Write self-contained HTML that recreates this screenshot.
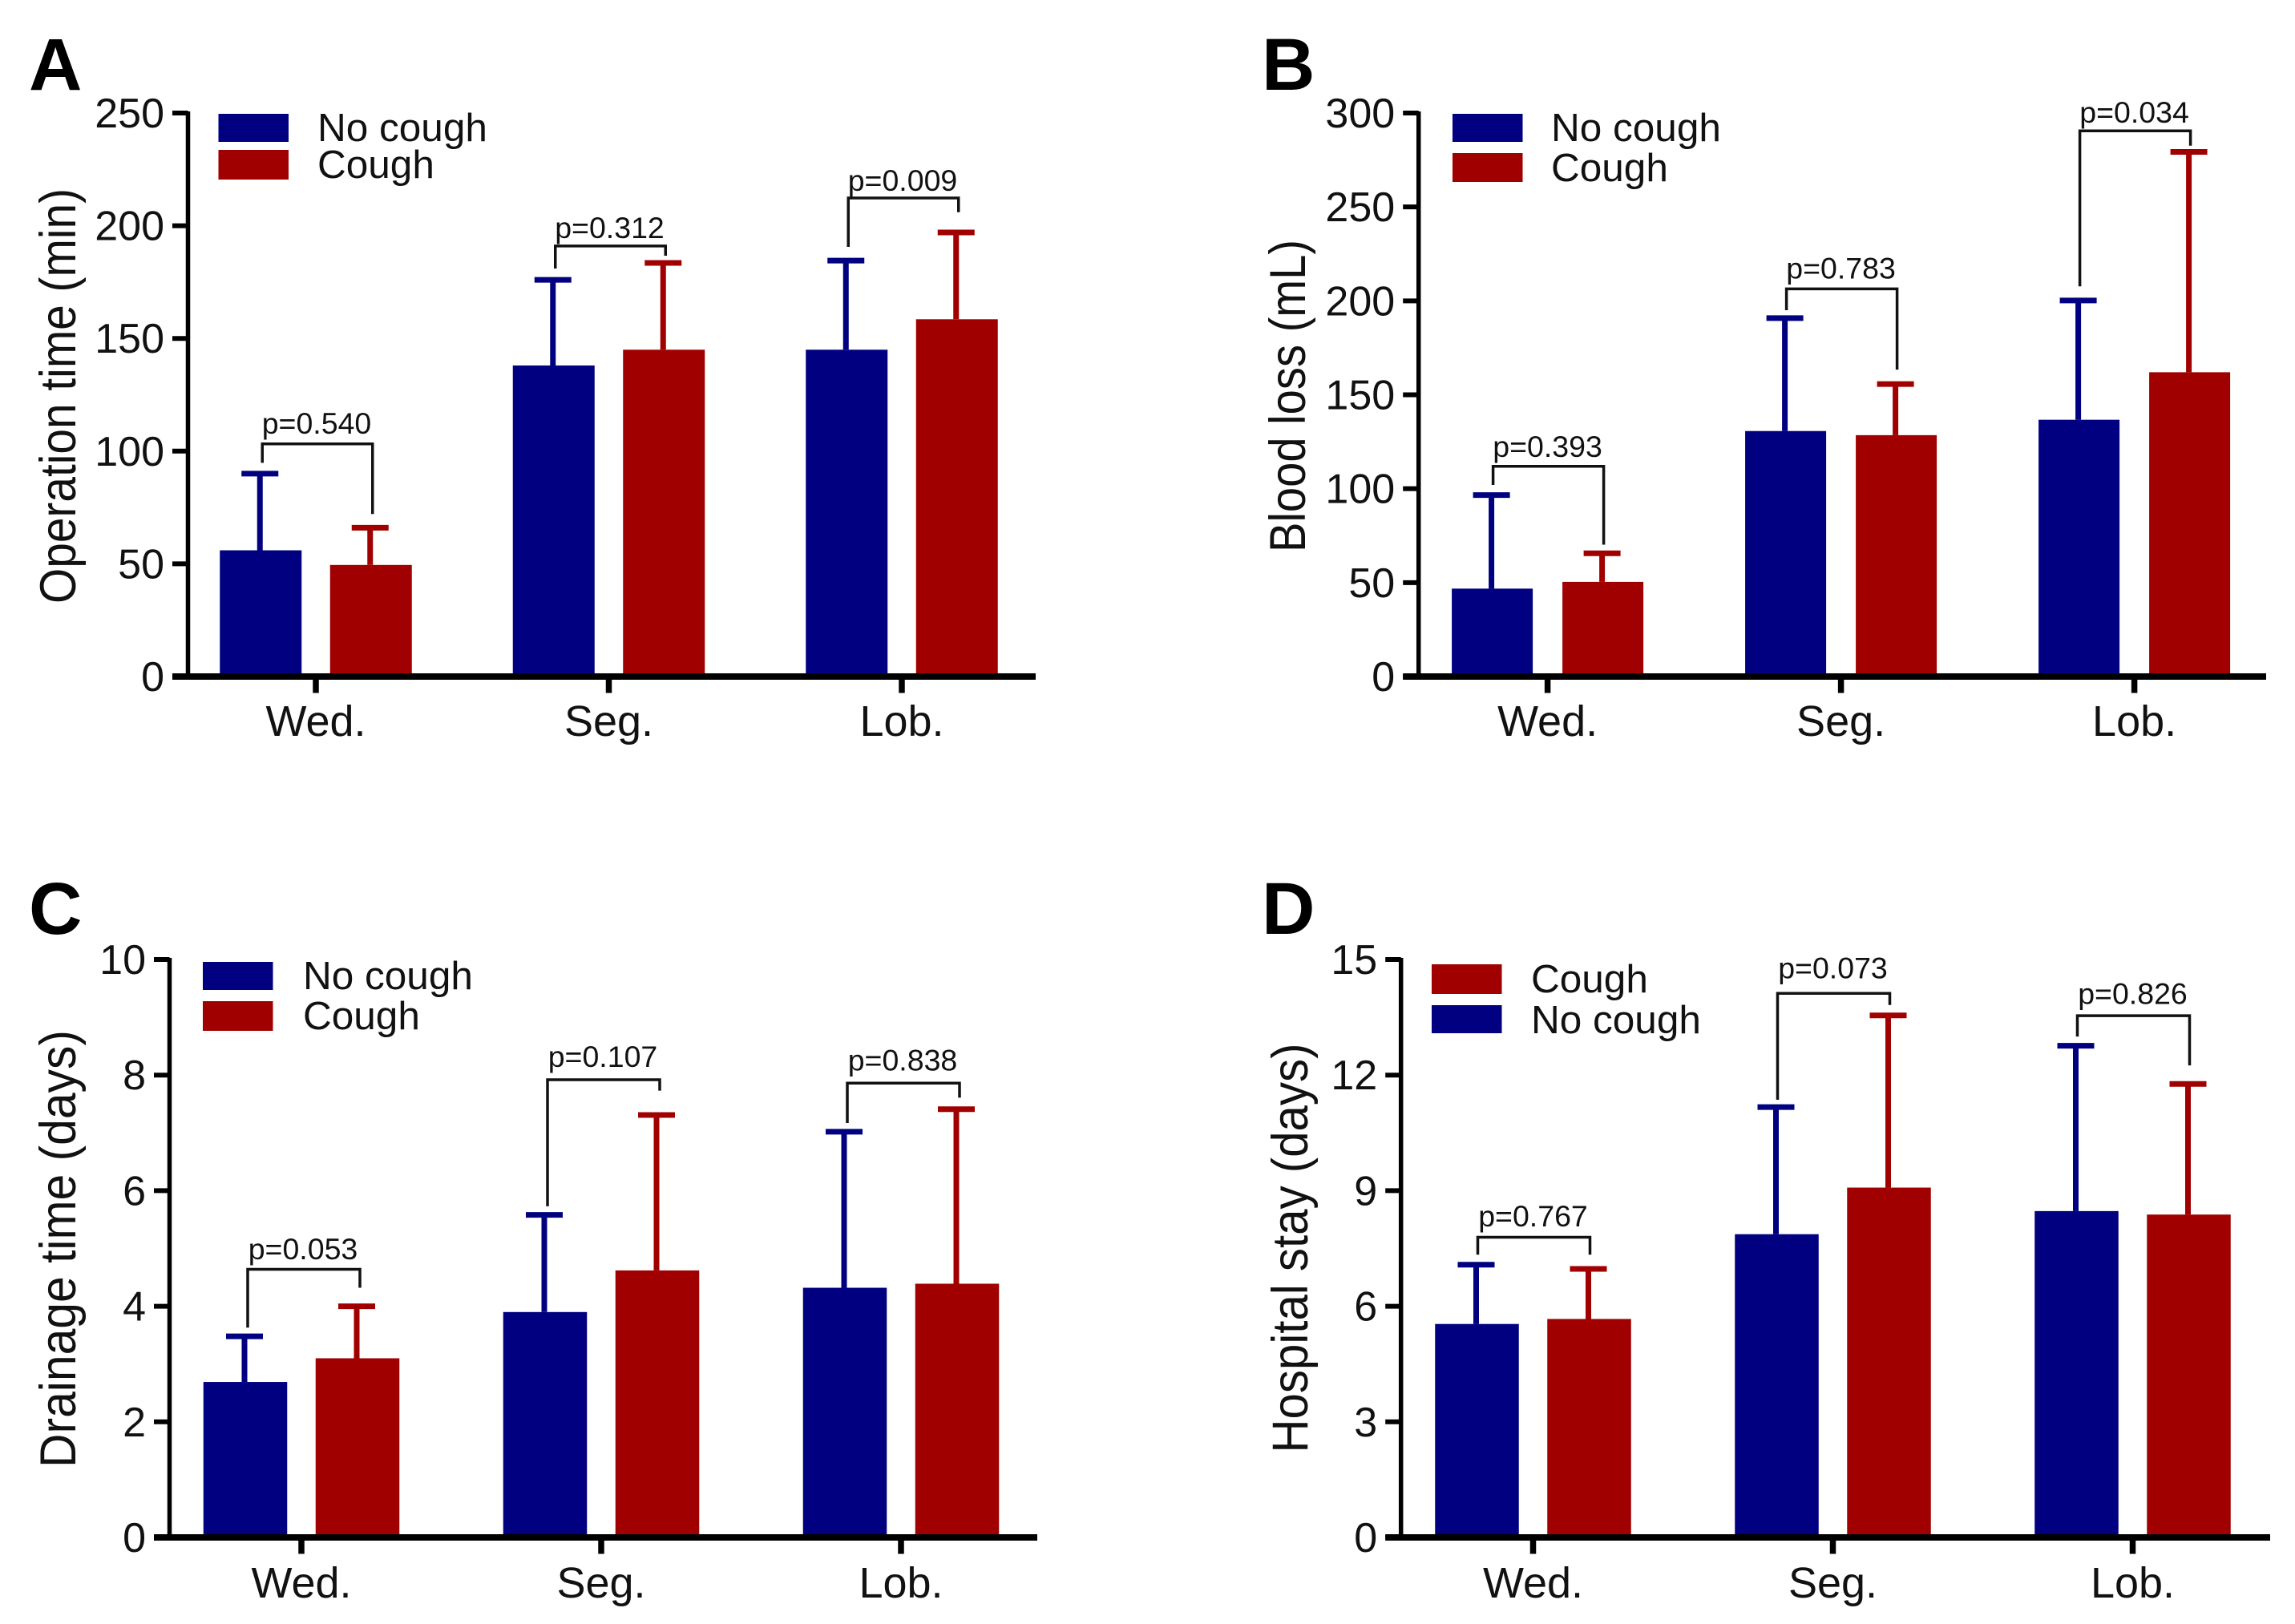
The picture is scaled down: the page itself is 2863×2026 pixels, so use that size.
<!DOCTYPE html>
<html lang="en">
<head>
<meta charset="utf-8">
<title>Cough outcomes by resection type</title>
<style>
html,body{margin:0;padding:0;background:#fff;}
svg{display:block;font-family:"Liberation Sans",Arial,sans-serif;fill:#111;}
</style>
</head>
<body>
<svg id="figure" xmlns="http://www.w3.org/2000/svg" width="2863" height="2026" viewBox="0 0 2863 2026"></svg>
<script>
const categories = ['Wed.', 'Seg.', 'Lob.'];

const aTickValues = [0, 50, 100, 150, 200, 250];
const aNoCough = [56, 138, 145];
const aCough = [49.5, 145, 158.5];
const aNoCoughErr = [90, 176, 184.5];
const aCoughErr = [66, 183.5, 197];
const aBracketTop = [103.2, 191, 212.3];
const aBracketLeftEnd = [94.8, 181, 190.6];
const aBracketRightEnd = [72.1, 186.7, 206];
const aPLabelLevel = [107.8, 194.6, 215.5];
const aPValues = ['p=0.540', 'p=0.312', 'p=0.009'];

const bTickValues = [0, 50, 100, 150, 200, 250, 300];
const bNoCough = [46.8, 130.7, 136.7];
const bCough = [50.4, 128.5, 162];
const bNoCoughErr = [96.6, 190.8, 200.2];
const bCoughErr = [65.6, 155.7, 279.3];
const bBracketTop = [111.9, 206.4, 290.5];
const bBracketLeftEnd = [102, 195, 207.7];
const bBracketRightEnd = [70.2, 163.4, 282.6];
const bPLabelLevel = [117, 211.8, 294.9];
const bPValues = ['p=0.393', 'p=0.783', 'p=0.034'];

const cTickValues = [0, 2, 4, 6, 8, 10];
const cNoCough = [2.69, 3.9, 4.32];
const cCough = [3.1, 4.62, 4.39];
const cNoCoughErr = [3.48, 5.58, 7.02];
const cCoughErr = [4.0, 7.31, 7.41];
const cBracketTop = [4.64, 7.92, 7.86];
const cBracketLeftEnd = [3.63, 5.73, 7.17];
const cBracketRightEnd = [4.32, 7.73, 7.61];
const cPLabelLevel = [4.81, 8.14, 8.08];
const cPValues = ['p=0.053', 'p=0.107', 'p=0.838'];

const dTickValues = [0, 3, 6, 9, 12, 15];
const dNoCough = [5.54, 7.87, 8.47];
const dCough = [5.67, 9.08, 8.38];
const dNoCoughErr = [7.08, 11.17, 12.76];
const dCoughErr = [6.97, 13.55, 11.77];
const dBracketTop = [7.79, 14.12, 13.54];
const dBracketLeftEnd = [7.34, 11.36, 13.0];
const dBracketRightEnd = [7.34, 13.82, 12.25];
const dPLabelLevel = [8.07, 14.51, 13.85];
const dPValues = ['p=0.767', 'p=0.073', 'p=0.826'];

const NAVY = '#000080';
const RED = '#a00000';
const NS = 'http://www.w3.org/2000/svg';
const figure = document.getElementById('figure');

function make(tag, parent, attrs) {
  const el = document.createElementNS(NS, tag);
  for (const k in attrs) el.setAttribute(k, attrs[k]);
  parent.appendChild(el);
  return el;
}

function drawPanel(p) {
  const panel = make('g', figure, {});
  
  

  const yScale = function (v) { return p.y0 - (v / p.max) * (p.y0 - p.yTop); };
  const xScale = function (i) { return p.x0 + i * p.step; };

  const letter = make('text', panel, { x: p.letterX, y: p.letterY, 'font-size': 92, 'font-weight': 'bold', fill: '#000' });
  letter.textContent = p.letter;
  
  

  const title = make('text', panel, {
    transform: 'translate(' + p.titleX + ',' + p.titleY + ') rotate(-90)',
    'text-anchor': 'middle', 'font-size': 63, textLength: p.titleLen, lengthAdjust: 'spacingAndGlyphs'
  });
  title.textContent = p.title;
  
  

  // bars and error bars
  categories.forEach(function (cat, i) {
    [
      { key: 'no-cough', vals: p.noCough, errs: p.noCoughErr, color: NAVY, sign: -1 },
      { key: 'cough', vals: p.cough, errs: p.coughErr, color: RED, sign: 1 }
    ].forEach(function (s) {
      const cx = xScale(i) + s.sign * p.barOffset;
      const top = yScale(s.vals[i]);
      const errTop = yScale(s.errs[i]);

      const bar = make('rect', panel, { x: cx - p.barW / 2, y: top, width: p.barW, height: p.y0 - top, fill: s.color });
      
      

      const stem = make('line', panel, { x1: cx - 1, x2: cx - 1, y1: top, y2: errTop, stroke: s.color, 'stroke-width': 7 });
      
      

      const cap = make('line', panel, { x1: cx - 24, x2: cx + 22, y1: errTop, y2: errTop, stroke: s.color, 'stroke-width': 7 });
      
      
    });

    // significance bracket
    const bx1 = xScale(i) - p.barOffset + p.bracketDx;
    const bx2 = xScale(i) + p.barOffset + p.bracketDx;
    const by = yScale(p.bracketTop[i]);
    const bracket = make('polyline', panel, {
      points: bx1 + ',' + yScale(p.bracketLeftEnd[i]) + ' ' + bx1 + ',' + by + ' ' + bx2 + ',' + by + ' ' + bx2 + ',' + yScale(p.bracketRightEnd[i]),
      fill: 'none', stroke: '#111', 'stroke-width': 3.5
    });
    
    

    const pLabel = make('text', panel, { x: (bx1 + bx2) / 2 - 1, y: yScale(p.pLabelLevel[i]), 'text-anchor': 'middle', 'font-size': 37.5 });
    pLabel.textContent = p.pValues[i];
    
    

    // category tick + label
    const xTick = make('line', panel, { x1: xScale(i), x2: xScale(i), y1: p.y0, y2: p.y0 + 20.5, stroke: '#000', 'stroke-width': 7.5 });
    
    

    const xLabel = make('text', panel, { x: xScale(i), y: p.xLabelY, 'text-anchor': 'middle', 'font-size': 54 });
    xLabel.textContent = cat;
    
    
  });

  // y axis
  const yAxis = make('line', panel, { x1: p.axisX, x2: p.axisX, y1: p.yTop - 2, y2: p.y0, stroke: '#000', 'stroke-width': 5.5 });
  
  

  p.ticks.forEach(function (t) {
    const yTick = make('line', panel, { x1: p.axisX - 19.5, x2: p.axisX, y1: yScale(t), y2: yScale(t), stroke: '#000', 'stroke-width': 6 });
    
    

    const yLabel = make('text', panel, { x: p.axisX - 29.5, y: yScale(t) + 18, 'text-anchor': 'end', 'font-size': 52 });
    yLabel.textContent = t;
    
    
  });

  // x axis
  const xAxis = make('line', panel, { x1: p.axisX - 19.5, x2: p.xEnd, y1: p.y0, y2: p.y0, stroke: '#000', 'stroke-width': 8 });
  
  

  // legend
  p.legend.forEach(function (item) {
    const entry = make('g', panel, {});
    
    

    const swatch = make('rect', entry, { x: p.legendX, y: item.y, width: 87.5, height: item.h, fill: item.color });
    
    

    const label = make('text', entry, { x: p.legendTextX, y: item.base, 'font-size': 49.5 });
    label.textContent = item.label;
    
    
  });
}

drawPanel({
  letter: 'A', letterX: 36, letterY: 112, title: 'Operation time (min)', titleX: 94, titleY: 494, titleLen: 518,
  axisX: 234.5, xEnd: 1292, y0: 844, yTop: 141, max: 250, x0: 394, step: 365.5, barOffset: 68.75, barW: 102, bracketDx: 2,
  xLabelY: 918, ticks: aTickValues, noCough: aNoCough, cough: aCough, noCoughErr: aNoCoughErr, coughErr: aCoughErr,
  bracketTop: aBracketTop, bracketLeftEnd: aBracketLeftEnd, bracketRightEnd: aBracketRightEnd, pLabelLevel: aPLabelLevel, pValues: aPValues,
  legendX: 272.5, legendTextX: 396,
  legend: [
    { label: 'No cough', color: NAVY, y: 142, h: 35, base: 176 },
    { label: 'Cough', color: RED, y: 187, h: 37, base: 222 }
  ]
});

drawPanel({
  letter: 'B', letterX: 1574, letterY: 112, title: 'Blood loss (mL)', titleX: 1628, titleY: 494, titleLen: 390,
  axisX: 1769.7, xEnd: 2827, y0: 844, yTop: 141, max: 300, x0: 1930.6, step: 366, barOffset: 69, barW: 101, bracketDx: 1,
  xLabelY: 918, ticks: bTickValues, noCough: bNoCough, cough: bCough, noCoughErr: bNoCoughErr, coughErr: bCoughErr,
  bracketTop: bBracketTop, bracketLeftEnd: bBracketLeftEnd, bracketRightEnd: bBracketRightEnd, pLabelLevel: bPLabelLevel, pValues: bPValues,
  legendX: 1812, legendTextX: 1935,
  legend: [
    { label: 'No cough', color: NAVY, y: 142, h: 35, base: 176 },
    { label: 'Cough', color: RED, y: 191, h: 36, base: 226 }
  ]
});

drawPanel({
  letter: 'C', letterX: 36, letterY: 1165, title: 'Drainage time (days)', titleX: 94, titleY: 1558, titleLen: 546,
  axisX: 211.5, xEnd: 1294, y0: 1918, yTop: 1197, max: 10, x0: 376, step: 374, barOffset: 70, barW: 104.5, bracketDx: 3,
  xLabelY: 1993, ticks: cTickValues, noCough: cNoCough, cough: cCough, noCoughErr: cNoCoughErr, coughErr: cCoughErr,
  bracketTop: cBracketTop, bracketLeftEnd: cBracketLeftEnd, bracketRightEnd: cBracketRightEnd, pLabelLevel: cPLabelLevel, pValues: cPValues,
  legendX: 253, legendTextX: 378,
  legend: [
    { label: 'No cough', color: NAVY, y: 1200, h: 35, base: 1234 },
    { label: 'Cough', color: RED, y: 1249, h: 37, base: 1284 }
  ]
});

drawPanel({
  letter: 'D', letterX: 1574, letterY: 1165, title: 'Hospital stay (days)', titleX: 1631, titleY: 1557, titleLen: 511,
  axisX: 1747.7, xEnd: 2832, y0: 1918, yTop: 1197, max: 15, x0: 1912.5, step: 374, barOffset: 70, barW: 104.5, bracketDx: 1,
  xLabelY: 1993, ticks: dTickValues, noCough: dNoCough, cough: dCough, noCoughErr: dNoCoughErr, coughErr: dCoughErr,
  bracketTop: dBracketTop, bracketLeftEnd: dBracketLeftEnd, bracketRightEnd: dBracketRightEnd, pLabelLevel: dPLabelLevel, pValues: dPValues,
  legendX: 1786, legendTextX: 1910,
  legend: [
    { label: 'Cough', color: RED, y: 1203, h: 37, base: 1238 },
    { label: 'No cough', color: NAVY, y: 1254, h: 35, base: 1289 }
  ]
});
</script>
</body>
</html>
